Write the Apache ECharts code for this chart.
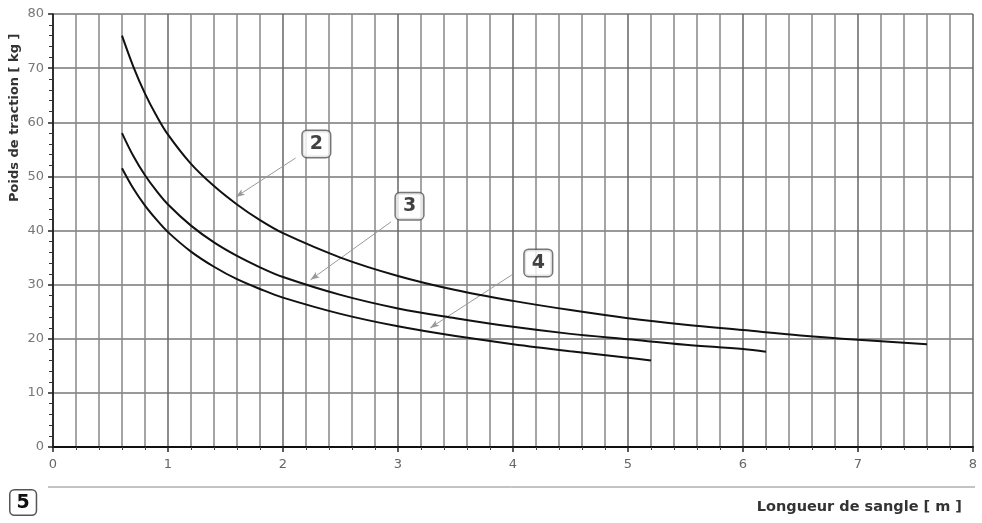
<!DOCTYPE html>
<html>
<head>
<meta charset="utf-8">
<script src="https://cdn.jsdelivr.net/npm/echarts@6/dist/echarts.min.js"></script>
<style>html,body{margin:0;padding:0;background:#fff;}#c{width:982px;height:523px;}</style>
</head>
<body>
<div id="c"></div>
<script>
// Curve "2"
const curve2X = [0.6, 0.7, 0.8, 0.9, 1.0, 1.2, 1.4, 1.6, 1.8, 2.0, 2.5, 3.0, 3.5, 4.0, 4.5, 5.0, 5.5, 6.0, 6.5, 7.0, 7.6];
const curve2Y = [76, 70.2, 65.3, 61.2, 57.7, 52.3, 48.2, 44.8, 41.9, 39.5, 35, 31.6, 29, 27, 25.3, 23.8, 22.6, 21.6, 20.6, 19.8, 19];
// Curve "3"
const curve3X = [0.6, 0.7, 0.8, 0.9, 1.0, 1.2, 1.4, 1.6, 1.8, 2.0, 2.5, 3.0, 3.5, 4.0, 4.5, 5.0, 5.5, 6.0, 6.2];
const curve3Y = [58, 53.7, 50.2, 47.3, 44.8, 40.9, 37.8, 35.3, 33.2, 31.4, 28.1, 25.6, 23.8, 22.2, 20.9, 19.9, 18.9, 18.1, 17.6];
// Curve "4"
const curve4X = [0.6, 0.7, 0.8, 0.9, 1.0, 1.2, 1.4, 1.6, 1.8, 2.0, 2.5, 3.0, 3.5, 4.0, 4.5, 5.0, 5.2];
const curve4Y = [51.5, 47.7, 44.6, 42, 39.7, 36.1, 33.3, 31, 29.2, 27.6, 24.6, 22.3, 20.5, 19, 17.7, 16.5, 16];
// Callout labels and arrows [label, labelX, labelY, arrowFromX, arrowFromY, arrowToX, arrowToY]
const callouts = [
  ['2', 2.29, 56.0, 2.11, 53.4, 1.59, 46.2],
  ['3', 3.10, 44.5, 2.94, 41.6, 2.24, 30.9],
  ['4', 4.22, 34.0, 3.99, 31.8, 3.28, 22.0]
];
const xTitle = 'Longueur de sangle [ m ]';
const yTitle = 'Poids de traction [ kg ]';

const zip = (xs, ys) => xs.map((x, i) => [x, ys[i]]);
const curveStyle = { color: '#111', width: 2 };
const mkCurve = (xs, ys) => ({
  type: 'line', data: zip(xs, ys), smooth: 0.35, showSymbol: false,
  lineStyle: curveStyle, itemStyle: { color: '#111' }, silent: true, z: 5
});

const chart = echarts.init(document.getElementById('c'));
chart.setOption({
  animation: false,
  grid: { left: 53, right: 9, top: 14, bottom: 76 },
  xAxis: {
    type: 'value', min: 0, max: 8, interval: 1,
    axisLine: { lineStyle: { color: '#111', width: 2 } },
    axisTick: { show: true, length: 5, lineStyle: { color: '#222', width: 1.5 } },
    minorTick: { show: true, splitNumber: 5, length: 3, lineStyle: { color: '#444' } },
    axisLabel: { color: '#666', fontSize: 13, margin: 11, fontFamily: 'DejaVu Sans' },
    splitLine: { show: true, lineStyle: { color: '#666', width: 1.5 } },
    minorSplitLine: { show: true, lineStyle: { color: '#888', width: 1.5 } }
  },
  yAxis: {
    type: 'value', min: 0, max: 80, interval: 10,
    axisLine: { show: true, lineStyle: { color: '#111', width: 1.5 } },
    axisTick: { show: true, length: 5, lineStyle: { color: '#222', width: 1.5 } },
    minorTick: { show: true, splitNumber: 5, length: 4, lineStyle: { color: '#333' } },
    axisLabel: { color: '#777', fontSize: 13, margin: 9, fontFamily: 'DejaVu Sans' },
    splitLine: { show: true, lineStyle: { color: '#777', width: 1.5 } }
  },
  series: [
    mkCurve(curve2X, curve2Y),
    mkCurve(curve3X, curve3Y),
    mkCurve(curve4X, curve4Y),
    {
      type: 'scatter', symbolSize: 1, itemStyle: { color: 'rgba(0,0,0,0)' }, z: 10,
      data: callouts.map(c => ({ value: [c[1], c[2]], name: c[0] })),
      label: {
        show: true, position: 'inside', formatter: p => p.name,
        fontSize: 19, fontWeight: 'bold', color: '#111', fontFamily: 'DejaVu Sans',
        backgroundColor: '#fff', borderColor: '#555', borderWidth: 1.5, borderRadius: 4,
        padding: [4, 7, 3, 7]
      },
      markLine: {
        silent: true, symbol: ['none', 'arrow'], symbolSize: [5, 9],
        lineStyle: { color: '#999', width: 1, type: 'solid' },
        label: { show: false },
        data: callouts.map(c => [{ coord: [c[3], c[4]] }, { coord: [c[5], c[6]] }])
      }
    }
  ],
  graphic: [
    { type: 'text', x: 8, y: 202, rotation: Math.PI / 2, originX: 0, originY: 0,
      style: { text: yTitle, font: 'bold 13px "DejaVu Sans"', fill: '#333' } },
    { type: 'text', right: 20, top: 500,
      style: { text: xTitle, font: 'bold 14.5px "DejaVu Sans"', fill: '#333' } },
    { type: 'line', shape: { x1: 48, y1: 487, x2: 975, y2: 487 }, style: { stroke: '#888', lineWidth: 1 } },
    { type: 'text', left: 9, top: 489,
      style: { text: '5', font: 'bold 19px "DejaVu Sans"', fill: '#111', backgroundColor: '#fff',
        borderColor: '#555', borderWidth: 1.5, borderRadius: 4, padding: [3, 6, 2, 6] } }
  ]
});
</script>
</body>
</html>
